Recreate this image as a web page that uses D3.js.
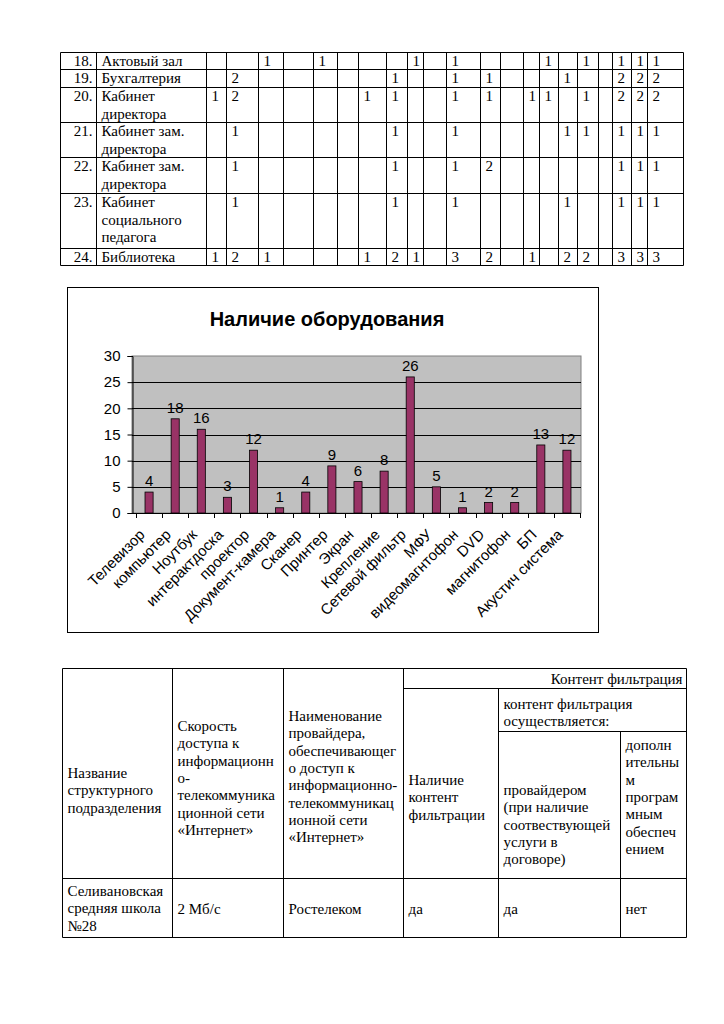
<!DOCTYPE html>
<html><head><meta charset="utf-8">
<script src="https://cdn.jsdelivr.net/npm/d3@7"></script>
<style>body{margin:0;background:#fff} svg{display:block}</style>
</head><body>
<svg id="page" width="724" height="1024"></svg>
<script>
// ---------------- CHART DATA ----------------
const chartTitle = "Наличие оборудования";
const categories = ["Телевизор","компьютер","Ноутбук","интерактдоска","проектор","Документ-камера","Сканер","Принтер","Экран","Крепление","Сетевой фильтр","МФУ","видеомагнтофон","DVD","магнитофон","БП","Акустич система"];
const values = [4,18,16,3,12,1,4,9,6,8,26,5,1,2,2,13,12];
const yTicks = [0,5,10,15,20,25,30];

// ---------------- TOP TABLE DATA ----------------
const topNums = ["18.","19.","20.","21.","22.","23.","24."];
const topNames = [["Актовый зал"],["Бухгалтерия"],["Кабинет","директора"],["Кабинет зам.","директора"],["Кабинет зам.","директора"],["Кабинет","социального","педагога"],["Библиотека"]];
const topValues = [
  ["","","1","","1","","","","1","","1","","","","1","","1","","1","1","1"],
  ["","2","","","","","","1","","","1","1","","","","1","","","2","2","2"],
  ["1","2","","","","","1","1","","","1","1","","1","1","","1","","2","2","2"],
  ["","1","","","","","","1","","","1","","","","","1","1","","1","1","1"],
  ["","1","","","","","","1","","","1","2","","","","","","","1","1","1"],
  ["","1","","","","","","1","","","1","","","","","1","","","1","1","1"],
  ["1","2","1","","","","1","2","1","","3","2","","1","","2","2","","3","3","3"]
];

// ---------------- BOTTOM TABLE DATA ----------------
const bottomHeaderTop = "Контент фильтрация";
const bottomHeaderSub = ["контент фильтрация","осуществляется:"];
const bottomHeaders = [
  ["Название","структурного","подразделения"],
  ["Скорость","доступа к","информационн","о-","телекоммуника","ционной сети","«Интернет»"],
  ["Наименование","провайдера,","обеспечивающег","о доступ к","информационно-","телекоммуникац","ионной сети","«Интернет»"],
  ["Наличие","контент","фильтрации"],
  ["провайдером","(при наличие","соотвествующей","услуги в","договоре)"],
  ["дополн","ительны","м","програм","мным","обеспеч","ением"]
];
const bottomRow = [["Селивановская","средняя школа","№28"],["2 Мб/с"],["Ростелеком"],["да"],["да"],["нет"]];

// ---------------- LAYOUT ----------------
const svg = d3.select("#page");
const serif = "'Liberation Serif','Times New Roman',serif";
const sans = "'Liberation Sans',Arial,sans-serif";

function lines(g, arr, x, y0, lh, opts = {}) {
  const t = g.append("text").attr("x", x).attr("y", y0)
    .attr("font-family", opts.font || serif).attr("font-size", opts.size || 15)
    .attr("fill", "#000").attr("text-anchor", opts.anchor || "start");
  arr.forEach((s, i) => t.append("tspan").attr("x", x).attr("y", y0 + i * lh).text(s));
}
function hline(g, x1, x2, y) { g.append("line").attr("x1", x1).attr("x2", x2).attr("y1", y).attr("y2", y).attr("stroke", "#000").attr("stroke-width", 1); }
function vline(g, x, y1, y2) { g.append("line").attr("x1", x).attr("x2", x).attr("y1", y1).attr("y2", y2).attr("stroke", "#000").attr("stroke-width", 1); }

// ---- top table
const tt = svg.append("g");
const colB = [60.5, 96.5, 206.5, 226.5, 258.5, 283.5, 313.5, 337.5, 358.5, 386.5, 407.5, 423.5, 446.5, 480.5, 500.5, 523.5, 539.5, 558.5, 577.5, 598.5, 612.5, 631.5, 647.5, 683.5];
const rowB = [52.5, 69.5, 87.5, 122.5, 157.5, 193.5, 248.5, 265.5];
rowB.forEach(y => hline(tt, colB[0], colB[colB.length - 1], y));
colB.forEach(x => vline(tt, x, rowB[0], rowB[rowB.length - 1]));
const LH = 17.5;
topNums.forEach((n, i) => {
  const yb = rowB[i] + 13.5;
  lines(tt, [n], colB[1] - 4, yb, LH, { anchor: "end" });
  lines(tt, topNames[i], colB[1] + 5, yb, LH);
  topValues[i].forEach((v, j) => { if (v) lines(tt, [v], colB[j + 2] + 5, yb, LH); });
});

// ---- chart
const cg = svg.append("g");
cg.append("rect").attr("x", 67.5).attr("y", 287.5).attr("width", 531).attr("height", 345)
  .attr("fill", "#fff").attr("stroke", "#000").attr("stroke-width", 1);
cg.append("text").attr("x", 327).attr("y", 326).attr("text-anchor", "middle")
  .attr("font-family", sans).attr("font-weight", "bold").attr("font-size", 20).text(chartTitle);

const px0 = 132, px1 = 581, py0 = 513, py1 = 356;
const bandL = 136, bandR = 580;
const x = d3.scaleBand().domain(categories).range([bandL, bandR]).paddingInner(0.69).paddingOuter(0.345);
const xStep = d3.scaleBand().domain(categories).range([bandL, bandR]);
const y = d3.scaleLinear().domain([0, 30]).range([py0, py1]);

cg.append("rect").attr("x", px0).attr("y", py1).attr("width", px1 - px0).attr("height", py0 - py1)
  .attr("fill", "#c0c0c0").attr("stroke", "#808080").attr("stroke-width", 1);
cg.selectAll(".grid").data(yTicks.filter(d => d > 0 && d < 30)).join("line")
  .attr("x1", px0).attr("x2", px1).attr("y1", d => Math.round(y(d)) + 0.5).attr("y2", d => Math.round(y(d)) + 0.5)
  .attr("stroke", "#000").attr("stroke-width", 1);

cg.selectAll(".bar").data(values).join("rect")
  .attr("x", (d, i) => x(categories[i])).attr("width", x.bandwidth())
  .attr("y", d => y(d)).attr("height", d => y(0) - y(d))
  .attr("fill", "#993366").attr("stroke", "#000").attr("stroke-width", 0.8);

// axes
const yAxis = d3.axisLeft(y).tickValues(yTicks).tickSize(5).tickPadding(7).tickFormat(d3.format("d"));
const ya = cg.append("g").attr("transform", `translate(${px0 + 0.5},0)`).call(yAxis);
ya.selectAll("text").attr("font-family", sans).attr("font-size", 15).attr("fill", "#000");
ya.selectAll("line,path").attr("stroke", "#000");

const tickXs = categories.map(c => xStep(c)).concat([bandR]);
const xa = cg.append("g");
hline(xa, px0, px1, py0 + 0.5);
tickXs.forEach(t => vline(xa, Math.round(t) + 0.5, py0, py0 + 5));

cg.selectAll(".lbl").data(values).join("text")
  .attr("x", (d, i) => x(categories[i]) + x.bandwidth() / 2).attr("y", d => y(d) - 6)
  .attr("text-anchor", "middle").attr("font-family", sans).attr("font-size", 15).text(d => d);

cg.selectAll(".xl").data(categories).join("text")
  .attr("transform", c => `translate(${x(c) + x.bandwidth() / 2 - 7},${py0 + 19}) rotate(-45)`)
  .attr("text-anchor", "end").attr("dy", "0.35em")
  .attr("font-family", sans).attr("font-size", 15).text(c => c);

// ---- bottom table
const bt = svg.append("g");
const bx = [62.5, 172.5, 283.5, 403.5, 498.5, 620.5, 686.5];
const byTop = 668.5, byH1 = 688.5, byH2 = 731.5, byHead = 878.5, byBot = 937.5;
hline(bt, bx[0], bx[6], byTop);
hline(bt, bx[3], bx[6], byH1);
hline(bt, bx[4], bx[6], byH2);
hline(bt, bx[0], bx[6], byHead);
hline(bt, bx[0], bx[6], byBot);
vline(bt, bx[0], byTop, byBot);
vline(bt, bx[1], byTop, byBot);
vline(bt, bx[2], byTop, byBot);
vline(bt, bx[3], byTop, byBot);
vline(bt, bx[4], byH1, byBot);
vline(bt, bx[5], byH2, byBot);
vline(bt, bx[6], byTop, byBot);

const BL = 17.3;
lines(bt, [bottomHeaderTop], bx[6] - 4, 684, BL, { anchor: "end" });
lines(bt, bottomHeaderSub, bx[4] + 5, 709, BL);
const hdrY = [778, 731, 721, 785, 795, 750];
bottomHeaders.forEach((h, i) => lines(bt, h, bx[i] + 5, hdrY[i], BL));
const rowY = [896, 914, 914, 914, 914, 914];
bottomRow.forEach((c, i) => lines(bt, c, bx[i] + 5, rowY[i], BL));
</script>
</body></html>
